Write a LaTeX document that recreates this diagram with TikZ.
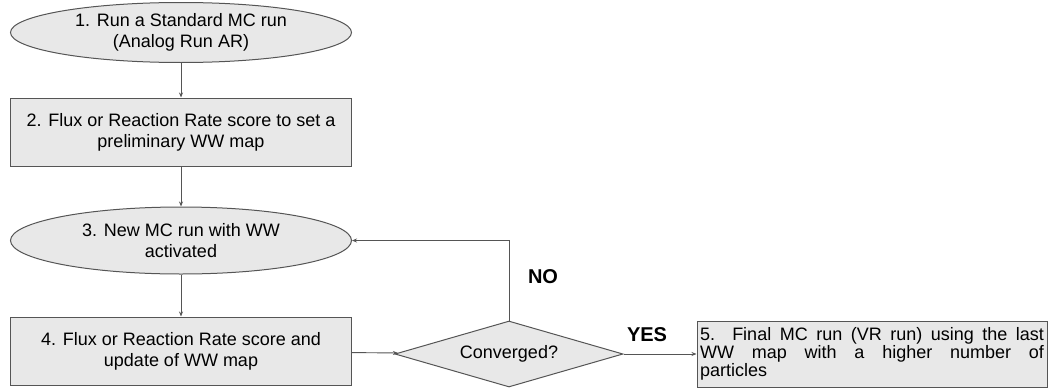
\documentclass[tikz,border=0pt]{standalone}
\usepackage{fontspec}
\setmainfont{Liberation Sans}
\usetikzlibrary{shapes.geometric,arrows.meta}
\definecolor{fillg}{HTML}{E8E8E8}
\definecolor{lineg}{HTML}{555555}
\tikzset{
  base/.style={draw=lineg, line width=1pt, fill=fillg, inner sep=0pt, font=\fontsize{18}{21}\selectfont, align=center},
  ell/.style={base, ellipse, minimum width=341pt, minimum height=60pt},
  rbox/.style={base, rectangle, minimum width=341pt, minimum height=68pt},
  dia/.style={base, diamond, shape aspect=3.45, minimum width=228pt, minimum height=66pt},
  conn/.style={draw=lineg, line width=0.9pt, -{Stealth[length=5pt,width=4pt]}},
  lab/.style={font=\fontsize{20}{22}\selectfont\bfseries}
}
\begin{document}
\begin{tikzpicture}[x=1pt,y=-1pt]
\useasboundingbox (0,0) rectangle (1048,388);
\node[ell] (e1) at (181,32.5) {1. Run a Standard MC run\\(Analog Run AR)};
\node[rbox] (b2) at (181,132) {2. Flux or Reaction Rate score to set a\\preliminary WW map};
\node[ell, minimum height=67pt] (e3) at (181,240.5) {3. New MC run with WW\\activated};
\node[rbox] (b4) at (181,351) {4. Flux or Reaction Rate score and\\update of WW map};
\node[dia] (d) at (509,354) {Converged?};
\node[base, rectangle, minimum width=350pt, minimum height=66pt, text width=344pt, align=justify, font=\fontsize{18}{18}\selectfont] (b5) at (872,354) {5. Final MC run (VR run) using the last\linebreak WW map with a higher number of\linebreak particles};
\draw[conn] (e1) -- (b2);
\draw[conn] (b2) -- (e3);
\draw[conn] (e3) -- (b4);
\draw[conn] (b4) -- (d);
\draw[conn] (d.north) |- (e3.east);
\draw[conn] (d) -- (b5);
\node[lab] (no) at (543,277) {NO};
\node[lab] (yes) at (647,335) {YES};
\end{tikzpicture}
\end{document}
